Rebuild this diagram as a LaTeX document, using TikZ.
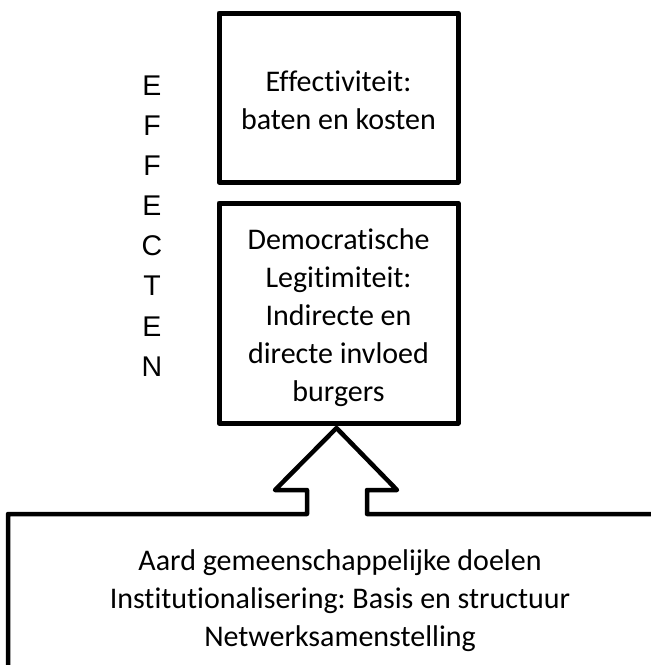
\documentclass[tikz,border=0pt]{standalone}
\usepackage{fontspec}
\setmainfont{Carlito}[Ligatures={NoCommon}]
\newfontfamily\arialf{Liberation Sans}
\frenchspacing
\begin{document}
\begin{tikzpicture}[x=1pt,y=-1pt,
  boxline/.style={draw=black, line width=5pt, line join=round},
  outline/.style={draw=black, line width=4.5pt, line join=round},
  boxtext/.style={align=center, font=\fontsize{30}{38}\selectfont, inner sep=0pt},
  sidetext/.style={align=center, font=\arialf\fontsize{28.5}{40.1}\selectfont, inner sep=0pt}]
\useasboundingbox (0,0) rectangle (651,665);
% boxes
\node[boxline, minimum width=239pt, minimum height=169pt] (eff) at (338.5,97.5) {};
\node[boxtext] (efftext) at (338.5,100) {Effectiviteit:\\baten en kosten};
\node[boxline, minimum width=239pt, minimum height=220pt] (dem) at (338.5,313) {};
\node[boxtext] (demtext) at (338.5,318)
  {Democratische\\Legitimiteit:\\Indirecte en\\directe invloed\\burgers};
% side label
\node[sidetext] (effecten) at (152,226) {E\\F\\F\\E\\C\\T\\E\\N};
% bottom text
\node[boxtext] (base) at (340,601)
  {Aard gemeenschappelijke doelen\\Institutionalisering: Basis en structuur\\Netwerksamenstelling};
% outline of base with arrow
\coordinate (bl) at (8,675);
\coordinate (br) at (665,514);
\coordinate (tip) at (336.5,428);
\draw[outline] (bl) -- (8,514) -- (307,514) -- (307,490) -- (275,490) -- (tip)
  -- (397,490) -- (367,490) -- (367,514) -- (br);
\end{tikzpicture}
\end{document}
